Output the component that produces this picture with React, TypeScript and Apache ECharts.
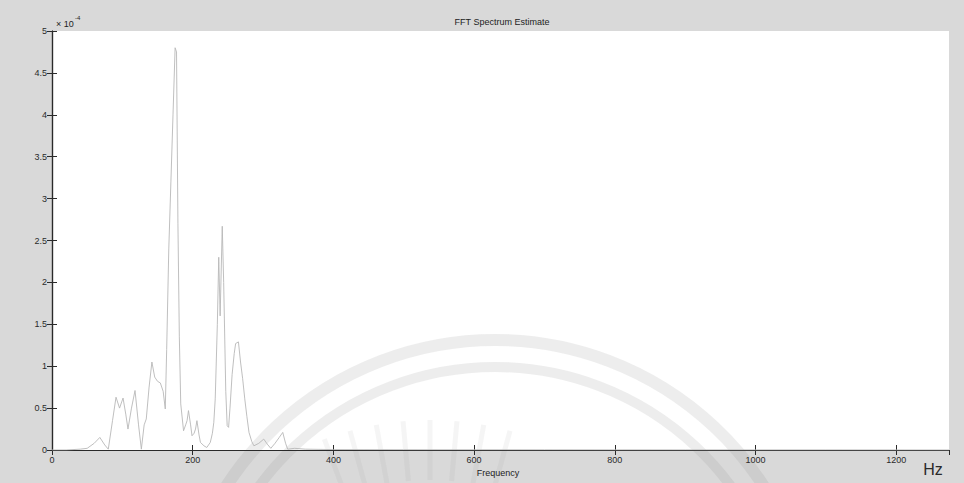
import React, { useEffect, useRef } from "react";
import * as echarts from "echarts";

const freqHz = [0, 20, 40, 50, 60, 68, 75, 80, 86, 91, 96, 101, 105, 108, 113, 118, 123, 127, 131, 134, 138, 142, 146, 150, 154, 158, 161, 163, 166, 169, 172, 175, 177, 179, 181, 183, 187, 190, 192, 194, 197, 199, 202, 204, 206, 209, 211, 216, 220, 225, 228, 230, 232, 235, 237, 239, 242, 244, 247, 249, 251, 253, 256, 259, 261, 265, 268, 271, 274, 277, 280, 284, 287, 294, 301, 306, 311, 317, 323, 328, 332, 335, 345, 360, 400, 500, 700, 900, 1100, 1275];
const psdE4 = [0, 0, 0.01, 0.02, 0.08, 0.15, 0.06, 0.01, 0.35, 0.63, 0.5, 0.62, 0.42, 0.25, 0.5, 0.71, 0.3, 0.01, 0.3, 0.37, 0.75, 1.05, 0.87, 0.82, 0.8, 0.7, 0.49, 1.2, 2.4, 3.2, 4.0, 4.8, 4.75, 2.7, 1.35, 0.55, 0.23, 0.3, 0.35, 0.47, 0.3, 0.17, 0.2, 0.25, 0.35, 0.18, 0.09, 0.05, 0.03, 0.09, 0.2, 0.33, 0.61, 1.5, 2.3, 1.6, 2.67, 2.0, 0.7, 0.29, 0.27, 0.5, 0.9, 1.15, 1.27, 1.29, 1.05, 0.85, 0.61, 0.4, 0.21, 0.1, 0.05, 0.08, 0.13, 0.07, 0.02, 0.08, 0.15, 0.21, 0.08, 0.01, 0.02, 0.01, 0.005, 0.003, 0.002, 0.001, 0.001, 0];

const xMin = 0;
const xMax = 1275;
const xStep = 200;
const yMin = 0;
const yMax = 5;
const yStep = 0.5;

const titleText = "FFT Spectrum Estimate";
const xLabelText = "Frequency";
const unitText = "Hz";
const expBase = "× 10";
const expPower = "-4";

const FONT = "Liberation Sans, Arial, sans-serif";

export default function App() {
  const ref = useRef<HTMLDivElement>(null);
  useEffect(() => {
    document.body.style.margin = "0";
    if (!ref.current) return;
    const chart = echarts.init(ref.current, null, { renderer: "svg" });
    const G = { left: 52, top: 31, right: 949, bottom: 450 };
    const axisCommon = {
      type: "value" as const,
      axisLine: { show: true, lineStyle: { color: "#2a2a2a", width: 1.2 } },
      axisTick: { show: true, inside: true, length: 5, lineStyle: { color: "#2a2a2a" } },
      splitLine: { show: false },
    };
    const labelStyle = { color: "#2a2a2a", fontSize: 9, fontFamily: FONT, formatter: (v: number) => String(v) };
    const cx = 495, cy = 660;
    const rays = [-0.36, -0.27, -0.18, -0.09, 0, 0.09, 0.18, 0.27].map((ang) => {
      const rcx = 430, rcy = 720;
      const r1 = 240, r2 = 300;
      return {
        type: "line",
        z: -5,
        shape: {
          x1: rcx + r1 * Math.sin(ang), y1: rcy - r1 * Math.cos(ang),
          x2: rcx + r2 * Math.sin(ang), y2: rcy - r2 * Math.cos(ang),
        },
        style: { stroke: "rgba(140,140,140,0.09)", lineWidth: 5 },
        silent: true,
      };
    });
    chart.setOption({
      animation: false,
      backgroundColor: "#d9d9d9",
      grid: { left: G.left, top: G.top, width: G.right - G.left, height: G.bottom - G.top, containLabel: false },
      xAxis: [
        {
          ...axisCommon,
          position: "bottom",
          min: xMin, max: xMax, interval: xStep,
          axisLabel: { ...labelStyle, margin: 5, showMaxLabel: false },
        },
        {
          ...axisCommon,
          position: "top",
          min: xMin, max: xMax, interval: xStep,
          axisLabel: { show: false },
        },
      ],
      yAxis: [
        {
          ...axisCommon,
          position: "left",
          min: yMin, max: yMax, interval: yStep,
          axisLabel: { ...labelStyle, margin: 5 },
        },
        {
          ...axisCommon,
          position: "right",
          min: yMin, max: yMax, interval: yStep,
          axisLabel: { show: false },
        },
      ],
      series: [
        {
          type: "line",
          data: freqHz.map((f, i) => [f, psdE4[i]]),
          showSymbol: false,
          symbol: "none",
          lineStyle: { color: "#b8b8b8", width: 0.9 },
          z: 3,
        },
      ],
      graphic: [
        {
          type: "rect", z: -10, silent: true,
          shape: { x: G.left, y: G.top, width: G.right - G.left, height: G.bottom - G.top },
          style: { fill: "#ffffff" },
        },
        {
          type: "arc", z: -5, silent: true,
          shape: { cx, cy, r: 320, startAngle: Math.PI * 1.02, endAngle: Math.PI * 1.98, clockwise: true },
          style: { stroke: "rgba(140,140,140,0.16)", lineWidth: 12, fill: "none" },
        },
        {
          type: "arc", z: -5, silent: true,
          shape: { cx, cy, r: 293, startAngle: Math.PI * 1.02, endAngle: Math.PI * 1.98, clockwise: true },
          style: { stroke: "rgba(140,140,140,0.16)", lineWidth: 10, fill: "none" },
        },
        ...rays,
        {
          type: "text", z: 10,
          x: 502, y: 22,
          style: { text: titleText, fill: "#222", fontSize: 9, fontFamily: FONT, align: "center", verticalAlign: "middle" },
        },
        {
          type: "text", z: 10,
          x: 56, y: 24,
          style: { text: expBase, fill: "#222", fontSize: 9, fontFamily: FONT, align: "left", verticalAlign: "middle" },
        },
        {
          type: "text", z: 10,
          x: 75, y: 18,
          style: { text: expPower, fill: "#222", fontSize: 6, fontFamily: FONT, align: "left", verticalAlign: "middle" },
        },
        {
          type: "text", z: 10,
          x: 498, y: 473,
          style: { text: xLabelText, fill: "#222", fontSize: 9, fontFamily: FONT, align: "center", verticalAlign: "middle" },
        },
        {
          type: "text", z: 10,
          x: 933, y: 469,
          style: { text: unitText, fill: "#2a2a2a", fontSize: 16, fontFamily: FONT, align: "center", verticalAlign: "middle" },
        },
      ],
    });
    return () => chart.dispose();
  }, []);
  return <div ref={ref} style={{ width: 964, height: 483 }} />;
}
